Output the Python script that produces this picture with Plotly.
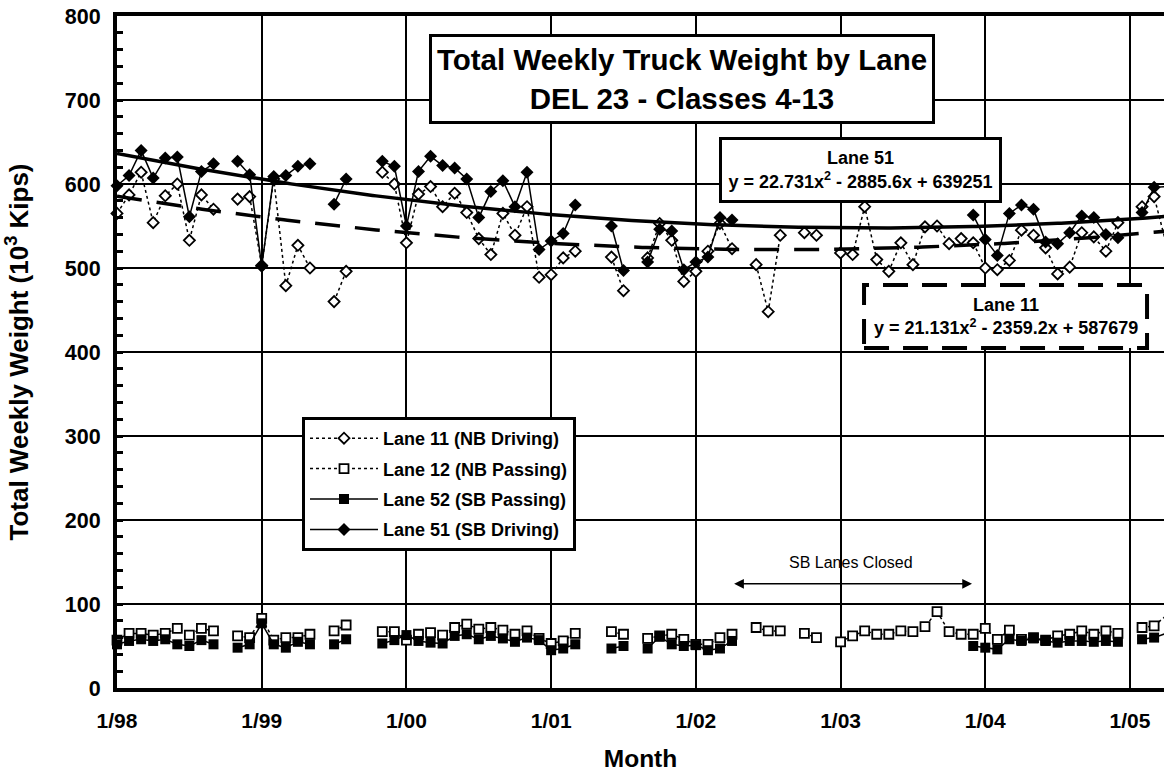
import numpy as np
import plotly.graph_objects as go

N = None
# month index 0 = Jan 1998
months = list(range(88))

lane11 = [565, 587, 614, 554, 586, 600, 533, 587, 570, N, 582, 585,
          503, 606, 479, 527, 500, N, 460, 496, N, N, 614, 600,
          530, 588, 597, 573, 589, 566, 535, 516, 565, 539, 573, 489,
          492, 512, 520, N, N, 513, 473, N, 512, 553, 533, 484,
          496, 520, 553, 523, N, 504, 448, 539, N, 542, 539, N,
          518, 516, 573, 510, 496, 530, 504, 549, 550, 529, 535, 530,
          500, 498, 509, 545, 539, 524, 493, 501, 542, 537, 520, 554,
          N, 573, 585, 529]

lane12 = [57, 65, 65, 63, 65, 71, 63, 71, 68, N, 62, 60,
          83, 57, 60, 60, 64, N, 68, 75, N, N, 67, 67,
          57, 64, 66, 63, 72, 76, 70, 72, 69, 64, 68, 59,
          53, 56, 65, N, N, 67, 64, N, 59, 62, 64, 58,
          52, 52, 60, 64, N, 72, 68, 68, N, 65, 60, N,
          55, 62, 68, 64, 64, 68, 67, 73, 91, 67, 64, 64,
          71, 58, 69, 58, 60, 57, 62, 64, 68, 64, 68, 65,
          N, 72, 74, 86]

lane52 = [52, 56, 58, 56, 58, 52, 50, 57, 52, N, 48, 52,
          77, 52, 48, 55, 52, N, 52, 58, N, N, 53, 57,
          63, 56, 54, 53, 62, 64, 58, 62, 59, 55, 60, 57,
          45, 47, 52, N, N, 47, 50, N, 47, 61, 52, 50,
          51, 45, 47, 56, N, N, N, N, N, N, N, N,
          N, N, N, N, N, N, N, N, N, N, N, 50,
          48, 46, 58, 56, 59, 56, 54, 56, 56, 55, 56, 55,
          N, 58, 60, 65]

lane51 = [598, 610, 640, 607, 631, 632, 561, 615, 624, N, 627, 611,
          502, 609, 610, 621, 624, N, 576, 606, N, N, 627, 621,
          550, 615, 633, 622, 619, 606, 560, 591, 604, 573, 614, 522,
          532, 541, 575, N, N, 550, 497, N, 507, 546, 544, 498,
          507, 513, 560, 557, N, N, N, N, N, N, N, N,
          N, N, N, N, N, N, N, N, N, N, N, 563,
          534, 515, 565, 575, 570, 531, 529, 542, 562, 560, 540, 536,
          N, 566, 596, 597]

# Trendline coefficients as printed on the chart (x = month number starting at 1, y in kips)
lane51_coef = [22.731, -2885.6, 639251]
lane11_coef = [21.131, -2359.2, 587679]

tick_vals = [0, 12, 24, 36, 48, 60, 72, 84]
tick_text = ["1/98", "1/99", "1/00", "1/01", "1/02", "1/03", "1/04", "1/05"]

FONT = "Arial, Liberation Sans, sans-serif"

fig = go.Figure()

fig.add_trace(go.Scatter(
    x=months, y=lane11, name="Lane 11 (NB Driving)", mode="lines+markers",
    line=dict(color="black", width=1.5, dash="dot"),
    marker=dict(symbol="diamond", size=8.5, color="white", line=dict(color="black", width=1.8)),
    cliponaxis=False, legendgroup="a"))
fig.add_trace(go.Scatter(
    x=months, y=lane12, name="Lane 12 (NB Passing)", mode="lines+markers",
    line=dict(color="black", width=1.5, dash="dot"),
    marker=dict(symbol="square", size=9, color="white", line=dict(color="black", width=1.8)),
    cliponaxis=False, legendgroup="b"))
fig.add_trace(go.Scatter(
    x=months, y=lane52, name="Lane 52 (SB Passing)", mode="lines+markers",
    line=dict(color="black", width=1.5),
    marker=dict(symbol="square", size=10, color="black"),
    cliponaxis=False, legendgroup="c"))
fig.add_trace(go.Scatter(
    x=months, y=lane51, name="Lane 51 (SB Driving)", mode="lines+markers",
    line=dict(color="black", width=1.5),
    marker=dict(symbol="diamond", size=10, color="black"),
    cliponaxis=False, legendgroup="d"))

xt = np.linspace(0, 88, 300)
fig.add_trace(go.Scatter(
    x=xt, y=np.polyval(lane51_coef, xt + 1) / 1000, mode="lines",
    line=dict(color="black", width=3.5), showlegend=False, hoverinfo="skip"))
fig.add_trace(go.Scatter(
    x=xt, y=np.polyval(lane11_coef, xt + 1) / 1000, mode="lines",
    line=dict(color="black", width=3.5, dash="25px,15px"), showlegend=False, hoverinfo="skip"))

fig.update_layout(
    width=1164, height=774,
    margin=dict(l=117, r=0, t=16, b=86),
    paper_bgcolor="white", plot_bgcolor="white",
    font=dict(family=FONT, color="black"),
    showlegend=True,
    legend=dict(x=0.1767, y=0.4033, xanchor="left", yanchor="top",
                bordercolor="black", borderwidth=3, bgcolor="white",
                font=dict(size=18, weight="bold", family=FONT),
                tracegroupgap=4, itemwidth=68),
    xaxis=dict(range=[0, 86.82], tickvals=tick_vals, ticktext=tick_text,
               showgrid=True, gridcolor="black", gridwidth=1.5,
               showline=True, linecolor="black", linewidth=3.5, mirror=True,
               ticks="", zeroline=False,
               tickfont=dict(size=21, weight="bold", family=FONT),
               ticklabelstandoff=11,
               title=dict(text="Month", font=dict(size=24.5, weight="bold", family=FONT), standoff=20)),
    yaxis=dict(range=[0, 800], tickvals=list(range(0, 801, 100)),
               showgrid=True, gridcolor="black", gridwidth=1.5,
               showline=True, linecolor="black", linewidth=4,
               ticks="inside", ticklen=6, tickwidth=2.5, tickcolor="black",
               minor=dict(dtick=20, ticks="inside", ticklen=6, tickwidth=2.5, tickcolor="black", showgrid=False),
               zeroline=False,
               tickfont=dict(size=21.5, weight="bold", family=FONT),
               ticklabelstandoff=8,
               title=dict(text="Total Weekly Weight (10<sup>3</sup> Kips)",
                          font=dict(size=26, weight="bold", family=FONT), standoff=30)),
)

# dashed box for Lane 11 equation
fig.add_shape(type="rect", xref="paper", yref="paper",
              x0=0.7135, x1=0.9838, y0=0.506, y1=0.5997,
              line=dict(color="black", width=4, dash="25px,14px"),
              fillcolor="white", layer="above")

fig.add_annotation(xref="paper", yref="paper", x=0.5401, y=0.9062,
                   xanchor="center", yanchor="middle", showarrow=False,
                   text="Total Weekly Truck Weight by Lane<br>DEL 23 - Classes 4-13",
                   font=dict(size=29.5, weight="bold", family=FONT),
                   bordercolor="black", borderwidth=3, bgcolor="white",
                   width=498, height=82, borderpad=1)
fig.add_annotation(xref="paper", yref="paper", x=0.7101, y=0.7708,
                   xanchor="center", yanchor="middle", showarrow=False,
                   text="Lane 51<br>y = 22.731x<sup>2</sup> - 2885.6x + 639251",
                   font=dict(size=18, weight="bold", family=FONT),
                   bordercolor="black", borderwidth=3, bgcolor="white",
                   width=275, height=58, borderpad=1)
fig.add_annotation(xref="paper", yref="paper", x=0.8487, y=0.5528,
                   xanchor="center", yanchor="middle", showarrow=False,
                   text="Lane 11<br>y = 21.131x<sup>2</sup> - 2359.2x + 587679",
                   font=dict(size=18, weight="bold", family=FONT))
fig.add_annotation(x=60.9, y=150, xref="x", yref="y", showarrow=False,
                   text="SB Lanes Closed", font=dict(size=16, family=FONT))
fig.add_annotation(x=70.9, y=124, ax=51.05, ay=124, xref="x", yref="y",
                   axref="x", ayref="y", text="", showarrow=True,
                   arrowhead=2, arrowside="end+start", arrowsize=1.3,
                   arrowwidth=1.5, arrowcolor="black")

fig.write_html("out.html", config={"displayModeBar": False},
               post_script="document.body.style.margin='0px';")
